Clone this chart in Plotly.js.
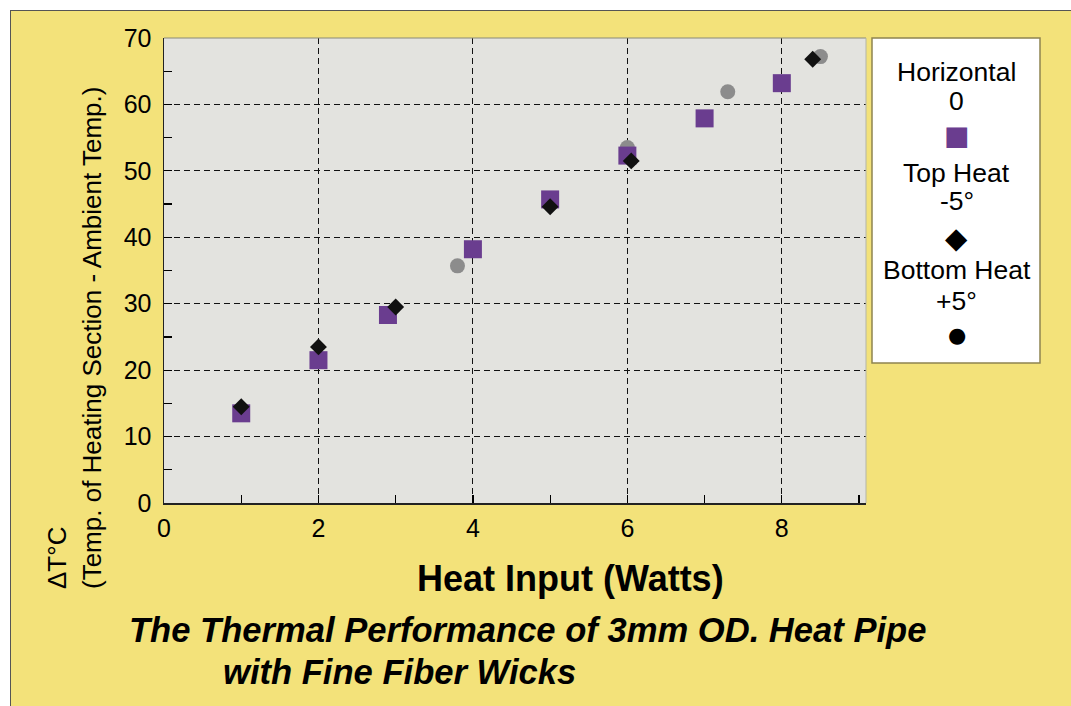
<!DOCTYPE html>
<html>
<head>
<meta charset="utf-8">
<script src="https://cdn.plot.ly/plotly-3.0.1.min.js"></script>
<style>
  html, body { margin: 0; padding: 0; background: #ffffff; width: 1071px; height: 706px; overflow: hidden; }
  #panel { position: absolute; left: 10px; top: 10px; width: 1061px; height: 696px; box-sizing: border-box;
           background: #f3e27a; border-top: 1.5px solid #555; border-left: 1.5px solid #555; }
  #chart { position: absolute; left: 0; top: 0; width: 1071px; height: 706px; }
</style>
</head>
<body>
<div id="panel"></div>
<div id="chart"></div>
<script>
// ---- data ----
const horizontalX = [1, 2, 2.9, 4, 5, 6, 7, 8];
const horizontalY = [13.5, 21.5, 28.3, 38.2, 45.7, 52.3, 57.9, 63.2];

const topHeatX = [1, 2, 3, 5, 6.05, 8.4];
const topHeatY = [14.5, 23.5, 29.5, 44.6, 51.5, 66.8];

const bottomHeatX = [3.8, 6, 7.3, 8.5];
const bottomHeatY = [35.7, 53.5, 61.9, 67.2];

const xTickVals = [0, 2, 4, 6, 8];
const yTickVals = [0, 10, 20, 30, 40, 50, 60, 70];

const legendLines = [
  ["Horizontal", "0"],
  ["Top Heat", "-5°"],
  ["Bottom Heat", "+5°"]
];
const legendSymbols = ["■", "◆", "●"];

const xTitle = "Heat Input (Watts)";
const yTitle1 = "ΔT°C";
const yTitle2 = "(Temp. of Heating Section - Ambient Temp.)";
const caption1 = "The Thermal Performance of 3mm OD. Heat Pipe";
const caption2 = "with Fine Fiber Wicks";

// ---- styles ----
const FONT = "Liberation Sans, Arial, Helvetica, sans-serif";
const PURPLE = "#6a3d8f";
const GRAY = "#8c8c8c";

const traces = [
  { x: bottomHeatX, y: bottomHeatY, type: "scatter", mode: "markers", name: "Bottom Heat +5°",
    marker: { symbol: "circle", size: 15, color: GRAY } },
  { x: horizontalX, y: horizontalY, type: "scatter", mode: "markers", name: "Horizontal 0",
    marker: { symbol: "square", size: 18, color: PURPLE } },
  { x: topHeatX, y: topHeatY, type: "scatter", mode: "markers", name: "Top Heat -5°",
    marker: { symbol: "diamond", size: 13, color: "#111111" } }
];

// paper-coordinate helpers (plot area: x 164..866, y 38..503 in page pixels)
const L = 164, R = 866, T = 38, B = 503;
const px = v => (v - L) / (R - L);
const py = v => (B - v) / (B - T);

const annotations = [];
const legendCx = px(957);
const legendTextY = [[71.5, 100.5], [172.5, 201.5], [269.5, 300.5]];
const legendSymY = [136, 238, 335];
const legendSymColor = [PURPLE, "#000000", "#000000"];
const legendSymSize = [27, 29, 21];
legendLines.forEach((pair, i) => {
  pair.forEach((txt, j) => {
    annotations.push({ xref: "paper", yref: "paper", x: legendCx, y: py(legendTextY[i][j]),
      text: txt, showarrow: false, xanchor: "center", yanchor: "middle",
      font: { family: FONT, size: 26.5, color: "#000" } });
  });
  annotations.push({ xref: "paper", yref: "paper", x: legendCx, y: py(legendSymY[i]),
    text: legendSymbols[i], showarrow: false, xanchor: "center", yanchor: "middle",
    font: { family: "DejaVu Sans", size: legendSymSize[i], color: legendSymColor[i] } });
});

annotations.push({ xref: "paper", yref: "paper", x: px(570), y: py(578), text: xTitle, showarrow: false,
  xanchor: "center", yanchor: "middle", font: { family: FONT, size: 36, weight: "bold", color: "#000" } });
annotations.push({ xref: "paper", yref: "paper", x: px(57), y: py(591), text: yTitle1, showarrow: false,
  textangle: -90, xanchor: "center", yanchor: "bottom", font: { family: FONT, size: 26, color: "#000" } });
annotations.push({ xref: "paper", yref: "paper", x: px(92), y: py(591), text: yTitle2, showarrow: false,
  textangle: -90, xanchor: "center", yanchor: "bottom", font: { family: FONT, size: 26, color: "#000" } });
annotations.push({ xref: "paper", yref: "paper", x: px(127), y: py(630), text: caption1, showarrow: false,
  xanchor: "left", yanchor: "middle", font: { family: FONT, size: 34.6, weight: "bold", style: "italic", color: "#000" } });
annotations.push({ xref: "paper", yref: "paper", x: px(221), y: py(672), text: caption2, showarrow: false,
  xanchor: "left", yanchor: "middle", font: { family: FONT, size: 34.6, weight: "bold", style: "italic", color: "#000" } });

const layout = {
  width: 1071, height: 706,
  margin: { l: L, r: 1071 - R, t: T, b: 706 - B, pad: 0 },
  paper_bgcolor: "rgba(0,0,0,0)",
  plot_bgcolor: "#e3e3df",
  showlegend: false,
  font: { family: FONT, size: 25, color: "#000" },
  xaxis: {
    range: [0, 9.09], tickvals: xTickVals, ticks: "inside", ticklen: 8, tickwidth: 1.2, tickcolor: "#000",
    showline: true, linecolor: "#222", linewidth: 1.5, mirror: false, zeroline: false,
    showgrid: true, gridcolor: "#111111", gridwidth: 1, griddash: "6px,4px",
    minor: { dtick: 1, ticks: "inside", ticklen: 8, tickcolor: "#000", showgrid: false },
    tickfont: { family: FONT, size: 25, color: "#000" }, ticklabelstandoff: 2
  },
  yaxis: {
    range: [0, 70], tickvals: yTickVals, ticks: "inside", ticklen: 8, tickwidth: 1.2, tickcolor: "#000",
    showline: true, linecolor: "#222", linewidth: 1.5, mirror: false, zeroline: false,
    showgrid: true, gridcolor: "#111111", gridwidth: 1, griddash: "6px,4px",
    minor: { dtick: 5, ticks: "inside", ticklen: 8, tickcolor: "#000", showgrid: false },
    tickfont: { family: FONT, size: 25, color: "#000" }, ticklabelstandoff: 6
  },
  shapes: [
    { type: "line", xref: "paper", yref: "paper", x0: 0, x1: 1, y0: 1, y1: 1,
      line: { color: "#8a8a78", width: 1.2 } },
    { type: "line", xref: "paper", yref: "paper", x0: 1, x1: 1, y0: 0, y1: 1,
      line: { color: "#b5b5a5", width: 1 } },
    { type: "rect", xref: "paper", yref: "paper", x0: px(872), x1: px(1040), y0: py(38), y1: py(363),
      fillcolor: "#ffffff", line: { color: "#8f8450", width: 1.5 }, layer: "above" }
  ],
  annotations: annotations
};

Plotly.newPlot("chart", traces, layout, { displayModeBar: false, staticPlot: true });
</script>
</body>
</html>
